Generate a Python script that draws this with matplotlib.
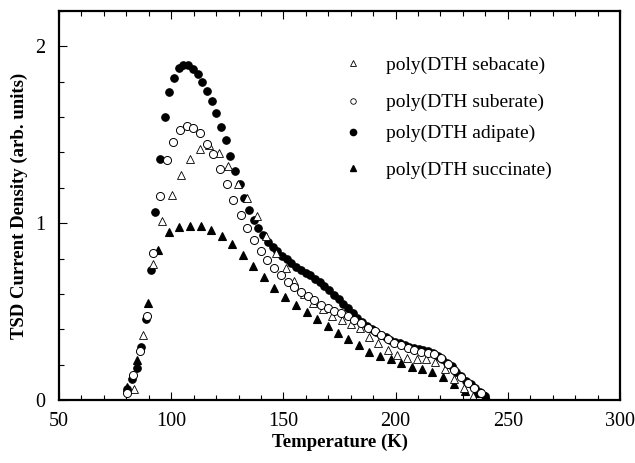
import matplotlib
matplotlib.use("Agg")
import matplotlib.pyplot as plt
from matplotlib.ticker import MultipleLocator

plt.rcParams['font.family'] = ['Liberation Serif', 'DejaVu Serif']

# ---- data ----
sebacate_T = [83.4, 87.6, 91.8, 95.9, 100.2, 104.4, 108.5, 112.7, 117.0, 121.3,
              125.4, 129.7, 133.9, 138.1, 142.2, 146.6, 151.0, 154.9, 159.1, 163.3,
              167.5, 171.7, 175.9, 180.0, 184.1, 188.1, 192.3, 196.5, 200.8, 205.2,
              209.4, 213.5, 217.7, 222.0, 226.2, 230.4, 234.6]
sebacate_I = [0.06, 0.367, 0.767, 1.013, 1.158, 1.271, 1.362, 1.422, 1.441, 1.397,
              1.322, 1.224, 1.14, 1.04, 0.93, 0.832, 0.744, 0.672, 0.60, 0.55,
              0.515, 0.475, 0.45, 0.43, 0.405, 0.358, 0.32, 0.282, 0.254, 0.239,
              0.232, 0.23, 0.213, 0.173, 0.12, 0.07, 0.02]

suberate_T = [80.2, 83.0, 86.1, 89.1, 92.0, 95.0, 98.0, 100.9, 103.9, 106.9,
              109.8, 112.8, 115.8, 118.8, 121.7, 124.7, 127.7, 130.9, 133.9, 136.9,
              139.9, 142.8, 145.9, 148.9, 151.9, 154.9, 157.8, 160.8, 163.8, 166.8,
              169.7, 172.7, 175.7, 178.7, 181.6, 184.6, 187.6, 190.6, 193.5, 196.5,
              199.4, 202.4, 205.4, 208.3, 211.3, 214.3, 217.2, 220.2, 223.2, 226.2,
              229.1, 232.1, 235.1, 238.1]
suberate_I = [0.038, 0.141, 0.279, 0.475, 0.834, 1.154, 1.356, 1.461, 1.525, 1.55,
              1.539, 1.512, 1.45, 1.39, 1.309, 1.224, 1.13, 1.049, 0.975, 0.904,
              0.842, 0.791, 0.744, 0.706, 0.668, 0.637, 0.612, 0.588, 0.565, 0.54,
              0.518, 0.503, 0.49, 0.475, 0.455, 0.435, 0.41, 0.39, 0.368, 0.343,
              0.324, 0.31, 0.295, 0.282, 0.272, 0.265, 0.258, 0.236, 0.205, 0.168,
              0.13, 0.098, 0.07, 0.038]

adipate_T = [80.4, 82.5, 84.6, 86.7, 88.9, 90.9, 93.0, 95.1, 97.2, 99.2,
             101.2, 103.3, 105.4, 107.5, 109.6, 111.8, 113.9, 115.9, 118.0, 120.1,
             122.2, 124.3, 126.3, 128.4, 130.5, 132.5, 134.7, 136.8, 138.8, 140.9,
             143.1, 145.2, 147.3, 149.4, 151.5, 153.6, 155.7, 157.8, 159.9, 162.0,
             164.1, 166.2, 168.3, 170.4, 172.5, 174.6, 176.7, 178.8, 180.9, 183.0,
             185.1, 187.2, 189.3, 191.4, 193.5, 195.6, 197.7, 199.8, 201.9, 204.0,
             206.1, 208.2, 210.3, 212.4, 214.5, 216.6, 218.7, 220.8, 222.9, 225.0,
             227.1, 229.2, 231.3, 233.4, 235.5, 237.6, 239.7]
adipate_I = [0.06, 0.12, 0.18, 0.30, 0.456, 0.734, 1.062, 1.365, 1.60, 1.742,
             1.82, 1.876, 1.893, 1.893, 1.874, 1.846, 1.80, 1.747, 1.69, 1.625,
             1.544, 1.469, 1.378, 1.296, 1.224, 1.145, 1.077, 1.02, 0.975, 0.934,
             0.894, 0.865, 0.84, 0.815, 0.795, 0.775, 0.755, 0.735, 0.72, 0.705,
             0.685, 0.665, 0.645, 0.62, 0.595, 0.57, 0.545, 0.52, 0.49, 0.465,
             0.44, 0.42, 0.40, 0.385, 0.37, 0.355, 0.34, 0.33, 0.32, 0.31,
             0.30, 0.295, 0.29, 0.28, 0.275, 0.265, 0.25, 0.23, 0.21, 0.19,
             0.16, 0.135, 0.11, 0.09, 0.07, 0.045, 0.02]

succinate_T = [80.4, 84.9, 89.5, 94.3, 99.0, 103.6, 108.5, 113.1, 117.9, 122.6,
               127.2, 131.9, 136.6, 141.4, 145.9, 150.7, 155.6, 160.4, 165.1, 169.7,
               174.3, 178.9, 183.7, 188.3, 193.0, 197.8, 202.5, 207.2, 211.9, 216.4,
               221.3, 226.0, 230.9, 235.7, 240.3]
succinate_I = [0.072, 0.226, 0.546, 0.85, 0.95, 0.977, 0.985, 0.983, 0.96, 0.927,
               0.88, 0.82, 0.757, 0.693, 0.635, 0.58, 0.54, 0.50, 0.46, 0.42,
               0.38, 0.346, 0.31, 0.27, 0.25, 0.23, 0.207, 0.188, 0.177, 0.158,
               0.132, 0.089, 0.053, 0.038, 0.023]

labels = ["poly(DTH sebacate)", "poly(DTH suberate)",
          "poly(DTH adipate)", "poly(DTH succinate)"]

x_ticks = [50, 100, 150, 200, 250, 300]
y_ticks = [0, 1, 2]

# ---- figure ----
fig = plt.figure(figsize=(6.35, 4.63), dpi=100)
ax = fig.add_axes([59/635, 63/463, 561/635, 389/463])

series = [
    (adipate_T, adipate_I, dict(marker='o', ms=5.4, mfc='black', mec='black', mew=0.8)),
    (succinate_T, succinate_I, dict(marker='^', ms=5.4, mfc='black', mec='black', mew=0.8)),
    (sebacate_T, sebacate_I, dict(marker='^', ms=5.4, mfc='white', mec='black', mew=0.6)),
    (suberate_T, suberate_I, dict(marker='o', ms=5.8, mfc='white', mec='black', mew=0.7)),
]
for T, I, st in series:
    ax.plot(T, I, linestyle='none', **st)

ax.set_xlim(50, 300)
ax.set_ylim(0, 2.2)
ax.set_xticks(x_ticks)
ax.set_yticks(y_ticks)
ax.xaxis.set_minor_locator(MultipleLocator(10))
ax.yaxis.set_minor_locator(MultipleLocator(0.2))
ax.tick_params(which='both', direction='in', top=True, right=False,
               labelsize=14.5, width=0.8)
ax.tick_params(which='major', length=6)
ax.tick_params(axis='x', which='major', pad=9)
ax.tick_params(axis='y', which='major', pad=10)
ax.tick_params(which='minor', length=3.5)
for s in ax.spines.values():
    s.set_linewidth(1.6)

ax.set_xlabel("Temperature (K)", fontsize=13.5, fontweight='bold')
ax.set_ylabel("TSD Current Density (arb. units)", fontsize=13.5,
              fontweight='bold')
ax.xaxis.set_label_coords(0.5, -0.086)
ax.yaxis.set_label_coords(-0.055, 0.5)

# ---- manual legend ----
leg_styles = [
    dict(marker='^', ms=4, mfc='white', mec='black', mew=0.6),
    dict(marker='o', ms=4, mfc='white', mec='black', mew=0.6),
    dict(marker='o', ms=4.5, mfc='black', mec='black'),
    dict(marker='^', ms=4.5, mfc='black', mec='black'),
]
leg_y_marker = [0.866, 0.769, 0.689, 0.596]
leg_y_text = [0.861, 0.766, 0.686, 0.591]
for lab, st, ym, yt in zip(labels, leg_styles, leg_y_marker, leg_y_text):
    ax.plot([0.524], [ym], transform=ax.transAxes, linestyle='none', **st)
    ax.text(0.583, yt, lab, transform=ax.transAxes, fontsize=14,
            va='center', ha='left')

fig.savefig("out.png", dpi=100)
